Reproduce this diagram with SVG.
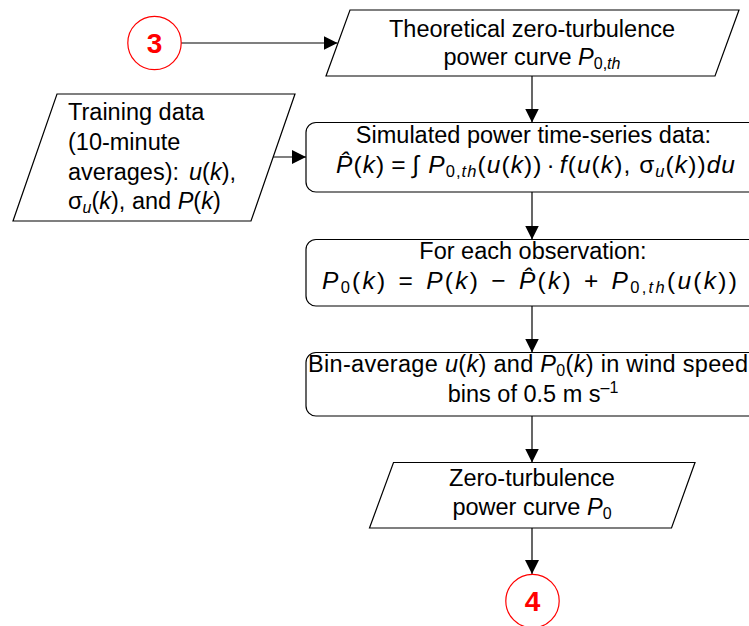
<svg xmlns="http://www.w3.org/2000/svg" width="749" height="626" viewBox="0 0 749 626">
<defs>
<marker id="arr" viewBox="0 0 14 14" refX="14" refY="7" markerWidth="14" markerHeight="14" markerUnits="userSpaceOnUse" orient="auto"><path d="M0,0 L14,7 L0,14 Z" fill="#000"/></marker>
<style>
.shape{fill:#fff;stroke:#000;stroke-width:1.2}
.conn{fill:none;stroke:#000;stroke-width:1.2;marker-end:url(#arr)}
.t{font-family:"Liberation Sans",Arial,sans-serif;font-size:23.5px;fill:#000}
.m{font-size:24.5px}
.c{text-anchor:middle}
.i{font-style:italic}
.circ{fill:#fff;stroke:#ff0000;stroke-width:1.2}
.ct{font-family:"Liberation Sans",Arial,sans-serif;font-size:28px;font-weight:bold;fill:#ff0000;text-anchor:middle}
</style>
</defs>
<g id="connectors">
<line class="conn" x1="181" y1="43" x2="337.5" y2="43"/>
<line class="conn" x1="532" y1="76" x2="532" y2="122.5"/>
<line class="conn" x1="273" y1="157" x2="306" y2="157"/>
<line class="conn" x1="532" y1="192" x2="532" y2="239.5"/>
<line class="conn" x1="532" y1="306" x2="532" y2="352.5"/>
<line class="conn" x1="532" y1="416" x2="532" y2="462.5"/>
<line class="conn" x1="532" y1="528" x2="532" y2="574"/>
</g>
<g id="c3">
<circle class="circ" cx="154.5" cy="43" r="26.7"/>
<text class="ct" x="154.5" y="53">3</text>
</g>
<g id="theoretical">
<polygon class="shape" points="350,10 739,10 715,76 326,76"/>
<text class="t c" x="532" y="37">Theoretical zero-turbulence</text>
<text class="t c" x="532" y="65">power curve <tspan class="i">P</tspan><tspan font-size="16" baseline-shift="-4">0,<tspan class="i">th</tspan></tspan></text>
</g>
<g id="training">
<polygon class="shape" points="57,94 295,94 251,221 13,221"/>
<text class="t" x="68" y="120">Training data</text>
<text class="t" x="68" y="150">(10-minute</text>
<text class="t" x="68" y="180">averages):<tspan dx="10" class="i">u</tspan>(<tspan class="i">k</tspan>),</text>
<text class="t" x="68" y="209">σ<tspan font-size="16" baseline-shift="-4" class="i">u</tspan>(<tspan class="i">k</tspan>), and <tspan class="i">P</tspan>(<tspan class="i">k</tspan>)</text>
</g>
<g id="simulated">
<rect class="shape" x="306" y="122.5" width="460" height="69.5" rx="10"/>
<text class="t c" x="533.5" y="143">Simulated power time-series data:</text>
<text class="t m" x="336" y="173" textLength="399" lengthAdjust="spacing"><tspan class="i">P̂</tspan>(<tspan class="i">k</tspan>)<tspan dx="6">=</tspan><tspan dx="6">∫</tspan> <tspan class="i">P</tspan><tspan font-size="16.5" baseline-shift="-4">0,<tspan class="i">th</tspan></tspan>(<tspan class="i">u</tspan>(<tspan class="i">k</tspan>))<tspan dx="4">·</tspan><tspan dx="4" class="i">f</tspan>(<tspan class="i">u</tspan>(<tspan class="i">k</tspan>), σ<tspan font-size="16.5" baseline-shift="-4" class="i">u</tspan>(<tspan class="i">k</tspan>))<tspan class="i">du</tspan></text>
</g>
<g id="foreach">
<rect class="shape" x="306" y="239.5" width="460" height="66.5" rx="10"/>
<text class="t c" x="533" y="259">For each observation:</text>
<text class="t m" x="322" y="289" textLength="415" lengthAdjust="spacing"><tspan class="i">P</tspan><tspan font-size="16.5" baseline-shift="-4">0</tspan>(<tspan class="i">k</tspan>)<tspan dx="11">=</tspan><tspan dx="11" class="i">P</tspan>(<tspan class="i">k</tspan>)<tspan dx="11">−</tspan><tspan dx="11" class="i">P̂</tspan>(<tspan class="i">k</tspan>)<tspan dx="11">+</tspan><tspan dx="11" class="i">P</tspan><tspan font-size="16.5" baseline-shift="-4">0,<tspan class="i">th</tspan></tspan>(<tspan class="i">u</tspan>(<tspan class="i">k</tspan>))</text>
</g>
<g id="binaverage">
<rect class="shape" x="306" y="352.5" width="460" height="63.5" rx="10"/>
<text class="t" x="308" y="372" textLength="440" lengthAdjust="spacing">Bin-average <tspan class="i">u</tspan>(<tspan class="i">k</tspan>) and <tspan class="i">P</tspan><tspan font-size="16" baseline-shift="-4">0</tspan>(<tspan class="i">k</tspan>) in wind speed</text>
<text class="t c" x="533" y="402">bins of 0.5 m s<tspan font-size="16" baseline-shift="9">–1</tspan></text>
</g>
<g id="zeroturb">
<polygon class="shape" points="393.5,462.5 695,462.5 671.5,528 369.5,528"/>
<text class="t c" x="532" y="486">Zero-turbulence</text>
<text class="t c" x="532" y="515">power curve <tspan class="i">P</tspan><tspan font-size="16" baseline-shift="-4">0</tspan></text>
</g>
<g id="c4">
<circle class="circ" cx="532.5" cy="601" r="26.7"/>
<text class="ct" x="532.5" y="611">4</text>
</g>
</svg>
